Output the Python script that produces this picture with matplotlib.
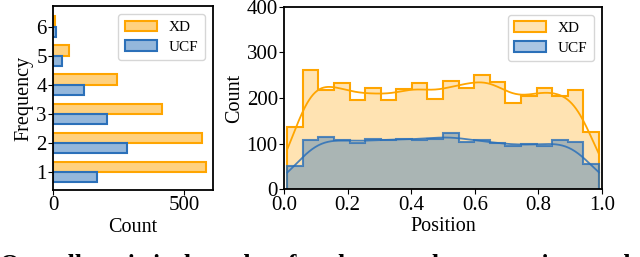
import numpy as np
import matplotlib
matplotlib.use("Agg")
import matplotlib.pyplot as plt
from matplotlib.patches import Patch
from matplotlib.colors import to_rgba

plt.rcParams['font.family'] = ['Liberation Serif', 'DejaVu Serif']

# left panel: how many anomalies per video
freq = [1, 2, 3, 4, 5, 6]
xd_freq = [583, 569, 416, 245, 61, 7]
ucf_freq = [167, 284, 207, 120, 33, 11]

# right panel: normalised anomaly position histogram (20 bins)
bin_lo, bin_hi, n_bins = 0.01, 0.99, 20
xd_pos = [137, 261, 218, 232, 196, 222, 196, 220, 232, 197,
          238, 221, 250, 234, 190, 205, 223, 205, 218, 126]
ucf_pos = [50, 109, 114, 107, 101, 110, 108, 110, 109, 111,
           124, 104, 108, 101, 95, 99, 95, 108, 104, 55]

orange = '#FFA500'
blue = '#2B70B9'


def kde_curve(counts, edges, grid):
    # gaussian kde on the binned data, scott bandwidth, scaled to counts
    c = np.asarray(counts, float)
    centers = (edges[:-1] + edges[1:]) / 2
    n = c.sum()
    mean = (c * centers).sum() / n
    std = np.sqrt((c * (centers - mean) ** 2).sum() / n)
    h = std * n ** (-1 / 5)
    z = (grid[:, None] - centers[None, :]) / h
    dens = (c[None, :] * np.exp(-0.5 * z ** 2)).sum(1) / (n * h * np.sqrt(2 * np.pi))
    return dens * n * (edges[1] - edges[0])


fig = plt.figure(figsize=(6.4, 2.57), dpi=100)
leg_kw = dict(loc='upper right', fontsize=11, handlelength=2.1, handleheight=0.72,
              borderaxespad=0.55, labelspacing=0.4, borderpad=0.4, handletextpad=0.8)

# ---- left: horizontal bars
ax1 = fig.add_axes([0.0828, 0.2607, 0.25, 0.716])
bh = 0.36
y = np.array(freq, float)
ax1.barh(y, xd_freq, height=bh, align='edge', color=to_rgba(orange, 0.5),
         edgecolor=orange, lw=1.5, label='XD')
ax1.barh(y - bh, ucf_freq, height=bh, align='edge', color=to_rgba(blue, 0.5),
         edgecolor=blue, lw=1.5, label='UCF')
ax1.set_xlim(0, 610)
ax1.set_ylim(0.38, 6.72)
ax1.set_xticks([0, 500])
ax1.set_yticks(freq)
ax1.set_xlabel('Count', fontsize=14.5, labelpad=2)
ax1.set_ylabel('Frequency', fontsize=14.5, labelpad=2)
ax1.tick_params(labelsize=15, pad=1)
ax1.legend(**leg_kw)

# ---- right: position histogram + kde
ax2 = fig.add_axes([0.4438, 0.2634, 0.497, 0.7105])
edges = np.linspace(bin_lo, bin_hi, n_bins + 1)
grid = np.linspace(bin_lo, bin_hi, 300)
for counts, col, a in [(xd_pos, orange, 0.3), (ucf_pos, blue, 0.4)]:
    ax2.stairs(counts, edges, fill=True, color=col, alpha=a, lw=0)
    ax2.stairs(counts, edges, color=col, lw=1.5, alpha=0.8 if col == blue else 1)
    ax2.plot(grid, kde_curve(counts, edges, grid), color=col, lw=1.3,
             alpha=0.85 if col == blue else 1)
ax2.set_xlim(0, 1)
ax2.set_ylim(0, 400)
ax2.set_xticks([0, 0.2, 0.4, 0.6, 0.8, 1.0])
ax2.set_yticks([0, 100, 200, 300, 400])
ax2.set_xlabel('Position', fontsize=14.5, labelpad=2)
ax2.set_ylabel('Count', fontsize=14.5, labelpad=2)
ax2.tick_params(labelsize=15, pad=1)
handles = [Patch(facecolor=to_rgba(orange, 0.3), edgecolor=orange, lw=1.5, label='XD'),
           Patch(facecolor=to_rgba(blue, 0.4), edgecolor=blue, lw=1.5, label='UCF')]
ax2.legend(handles=handles, **leg_kw)

for ax in (ax1, ax2):
    for s in ax.spines.values():
        s.set_linewidth(1.3)

# caption cut off at the bottom of the crop
fig.text(0.0, -0.06, 'Overall statistical results of each anomaly annotation on the',
         fontsize=18.3, fontweight='bold', ha='left', va='baseline')

fig.savefig('out.png', dpi=100)
